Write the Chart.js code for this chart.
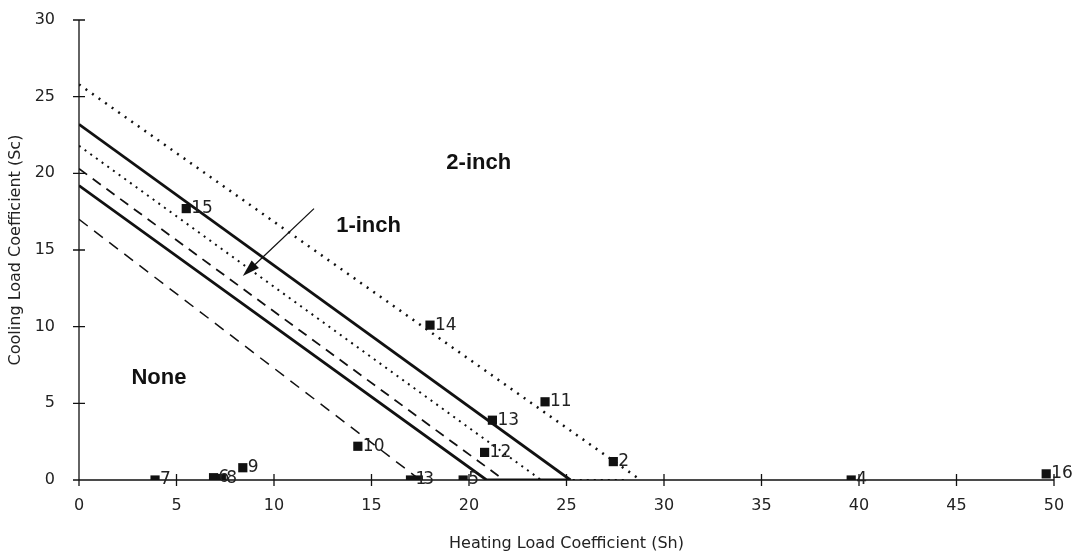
<!DOCTYPE html>
<html>
<head>
<meta charset="utf-8">
<script src="https://cdn.jsdelivr.net/npm/chart.js@4.4.0/dist/chart.umd.min.js"></script>
<style>
  html, body { margin: 0; padding: 0; background: #fff; }
  #wrap { width: 1078px; height: 557px; }
</style>
</head>
<body>
<div id="wrap"><canvas id="chart" width="1078" height="557"></canvas></div>
<script>
// Buildings: heating load coefficient (Sh) vs cooling load coefficient (Sc)
const pointLabels = ['15', '14', '11', '13', '10', '12', '2', '9', '7', '6', '8', '1', '3', '5', '4', '16'];
const pointSh = [5.5, 18.0, 23.9, 21.2, 14.3, 20.8, 27.4, 8.4, 3.9, 6.9, 7.3, 17.0, 17.4, 19.7, 39.6, 49.6];
const pointSc = [17.7, 10.1, 5.1, 3.9, 2.2, 1.8, 1.2, 0.8, 0.0, 0.15, 0.1, 0.0, 0.0, 0.0, 0.0, 0.4];

// Boundary lines (Sh, Sc pairs)
const upperDottedSh = [0, 28.8];
const upperDottedSc = [25.8, 0];
const upperSolidSh = [0, 25.2];
const upperSolidSc = [23.2, 0];
const midDottedSh = [0, 23.7, 28.0];
const midDottedSc = [21.8, 0, 0];
const midDashedSh = [0, 21.8];
const midDashedSc = [20.3, 0];
const lowerSolidSh = [0, 20.9, 25.2];
const lowerSolidSc = [19.2, 0, 0];
const lowerDashedSh = [0, 17.5];
const lowerDashedSc = [17.0, 0];

const xTicks = [0, 5, 10, 15, 20, 25, 30, 35, 40, 45, 50];
const yTicks = [0, 5, 10, 15, 20, 25, 30];

const FONT = '"DejaVu Sans", sans-serif';
const BOLD_FONT = '"Liberation Sans", Arial, sans-serif';

function pairs(xs, ys) {
    return xs.map((x, i) => ({ x: x, y: ys[i] }));
}

function lineSet(xs, ys, width, dash) {
    return {
        type: 'line',
        data: pairs(xs, ys),
        borderColor: '#111',
        borderWidth: width,
        borderDash: dash,
        pointRadius: 0,
        fill: false,
        tension: 0
    };
}

// text labels on the plot, in data units
const notes = [
    { text: '2-inch', x: 20.5, y: 20.7 },
    { text: '1-inch', x: 14.85, y: 16.6 },
    { text: 'None', x: 4.1, y: 6.65 }
];
const arrow = { fromX: 12.05, fromY: 17.7, toX: 8.4, toY: 13.3 };

const extrasPlugin = {
    id: 'extras',
    afterDatasetsDraw(chart) {
        const ctx = chart.ctx;
        const xs = chart.scales.x;
        const ys = chart.scales.y;
        ctx.save();

        // axis lines with crossing ticks
        ctx.strokeStyle = '#111';
        ctx.lineWidth = 1.3;
        ctx.beginPath();
        ctx.moveTo(xs.getPixelForValue(0), ys.getPixelForValue(0));
        ctx.lineTo(xs.getPixelForValue(50), ys.getPixelForValue(0));
        ctx.moveTo(xs.getPixelForValue(0), ys.getPixelForValue(0));
        ctx.lineTo(xs.getPixelForValue(0), ys.getPixelForValue(30));
        xTicks.forEach(v => {
            const px = xs.getPixelForValue(v);
            const py = ys.getPixelForValue(0);
            ctx.moveTo(px, py - 6);
            ctx.lineTo(px, py + 6);
        });
        yTicks.forEach(v => {
            const px = xs.getPixelForValue(0);
            const py = ys.getPixelForValue(v);
            ctx.moveTo(px - 6, py);
            ctx.lineTo(px + 6, py);
        });
        ctx.stroke();

        // point number labels
        ctx.fillStyle = '#222';
        ctx.font = '17px ' + FONT;
        ctx.textAlign = 'left';
        ctx.textBaseline = 'middle';
        pointLabels.forEach((lab, i) => {
            const px = xs.getPixelForValue(pointSh[i]);
            const py = ys.getPixelForValue(pointSc[i]);
            ctx.fillText(lab, px + 5, py);
        });

        // region labels
        ctx.fillStyle = '#111';
        ctx.font = 'bold 22px ' + BOLD_FONT;
        ctx.textAlign = 'center';
        notes.forEach(n => {
            ctx.fillText(n.text, xs.getPixelForValue(n.x), ys.getPixelForValue(n.y));
        });

        // arrow
        const x1 = xs.getPixelForValue(arrow.fromX), y1 = ys.getPixelForValue(arrow.fromY);
        const x2 = xs.getPixelForValue(arrow.toX), y2 = ys.getPixelForValue(arrow.toY);
        const ang = Math.atan2(y2 - y1, x2 - x1);
        ctx.lineWidth = 1.3;
        ctx.beginPath();
        ctx.moveTo(x1, y1);
        ctx.lineTo(x2 - 10 * Math.cos(ang), y2 - 10 * Math.sin(ang));
        ctx.stroke();
        ctx.beginPath();
        ctx.moveTo(x2, y2);
        ctx.lineTo(x2 - 18 * Math.cos(ang - 0.3), y2 - 18 * Math.sin(ang - 0.3));
        ctx.lineTo(x2 - 18 * Math.cos(ang + 0.3), y2 - 18 * Math.sin(ang + 0.3));
        ctx.closePath();
        ctx.fill();

        ctx.restore();
    }
};

const ctx = document.getElementById('chart').getContext('2d');
const chart = new Chart(ctx, {
    type: 'scatter',
    data: {
        datasets: [
            lineSet(upperDottedSh, upperDottedSc, 2.5, [2, 6]),
            lineSet(upperSolidSh, upperSolidSc, 2.8, []),
            lineSet(midDottedSh, midDottedSc, 2, [2, 5]),
            lineSet(midDashedSh, midDashedSc, 1.8, [10, 7]),
            lineSet(lowerSolidSh, lowerSolidSc, 2.8, []),
            lineSet(lowerDashedSh, lowerDashedSc, 1.5, [11, 8]),
            {
                type: 'scatter',
                data: pairs(pointSh, pointSc),
                pointStyle: 'rect',
                pointRadius: 6.5,
                backgroundColor: '#111',
                borderColor: '#111',
                borderWidth: 0
            }
        ]
    },
    options: {
        responsive: false,
        animation: false,
        layout: { padding: { top: 20, right: 24, left: 0, bottom: 0 } },
        plugins: {
            legend: { display: false },
            tooltip: { enabled: false }
        },
        scales: {
            x: {
                type: 'linear',
                min: 0,
                max: 50,
                afterFit(scale) {
                    scale.height = 77;
                    scale.paddingLeft = 0;
                    scale.paddingRight = 0;
                },
                afterBuildTicks(scale) { scale.ticks = xTicks.map(v => ({ value: v })); },
                grid: { display: false },
                border: { display: false },
                ticks: {
                    color: '#222',
                    font: { family: FONT, size: 16 },
                    padding: 8
                },
                title: {
                    display: true,
                    text: 'Heating Load Coefficient (Sh)',
                    color: '#222',
                    font: { family: FONT, size: 16 },
                    padding: { top: 8 }
                }
            },
            y: {
                type: 'linear',
                min: 0,
                max: 30,
                afterFit(scale) {
                    scale.width = 79;
                    scale.paddingTop = 0;
                    scale.paddingBottom = 0;
                },
                afterBuildTicks(scale) { scale.ticks = yTicks.map(v => ({ value: v })); },
                grid: { display: false },
                border: { display: false },
                ticks: {
                    color: '#222',
                    font: { family: FONT, size: 16 },
                    padding: 16
                },
                title: {
                    display: true,
                    text: 'Cooling Load Coefficient (Sc)',
                    color: '#222',
                    font: { family: FONT, size: 16 },
                    padding: { top: 6, bottom: 2 }
                }
            }
        }
    },
    plugins: [extrasPlugin]
});
</script>
</body>
</html>
